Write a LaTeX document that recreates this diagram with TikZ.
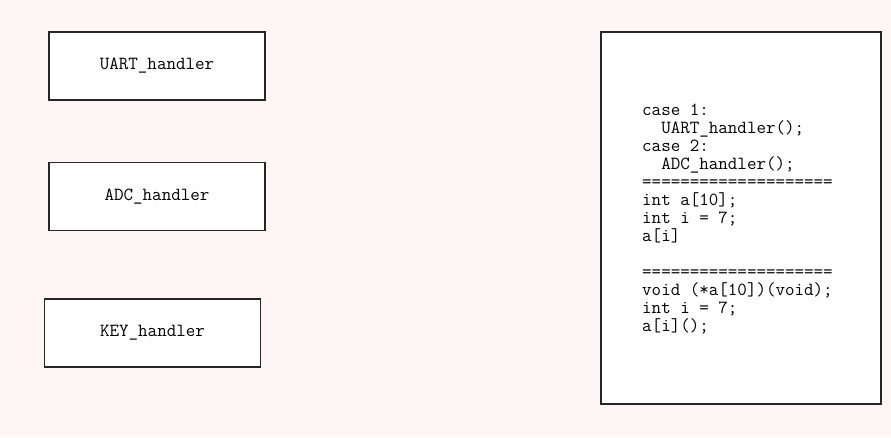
\documentclass[tikz,border=0pt]{standalone}
\usepackage{fontspec}
\definecolor{bgpink}{RGB}{254,246,246}
\tikzstyle{diag}=[x=1pt, y=-1pt, font=\ttfamily\fontsize{18.5}{18}\selectfont]
\tikzstyle{hnd}=[draw=black!85, line width=1.2pt, fill=white, minimum width=216pt, minimum height=68pt, inner sep=0pt]
\tikzstyle{tbl}=[draw=black!85, line width=1.2pt, fill=white, minimum width=280pt, minimum height=372pt, inner sep=0pt]
\tikzstyle{code}=[inner sep=0pt, align=left, anchor=base west]
\newcommand{\codeX}{642}
\newcommand{\codeY}{331}

\begin{document}
\begin{tikzpicture}[diag]
	\fill[bgpink] (0,0) rectangle (891,437);
	\useasboundingbox (0,0) rectangle (891,437);
	%%
	\draw (157,66) node[hnd] (uart) {UART\_handler};
	\draw (157,196.5) node[hnd] (adc) {ADC\_handler};
	\draw (152.5,333) node[hnd] (key) {KEY\_handler};
	%%%%%%
	\draw (741,218) node[tbl] (tbl) {};
	\draw (\codeX,\codeY) node[code] (src) {case 1:\\
\ \ UART\_handler();\\
case 2:\\
\ \ ADC\_handler();\\
====================\\
int a[10];\\
int i = 7;\\
a[i]\\[18pt]
====================\\
void (*a[10])(void);\\
int i = 7;\\
a[i]();};
\end{tikzpicture}
\end{document}
